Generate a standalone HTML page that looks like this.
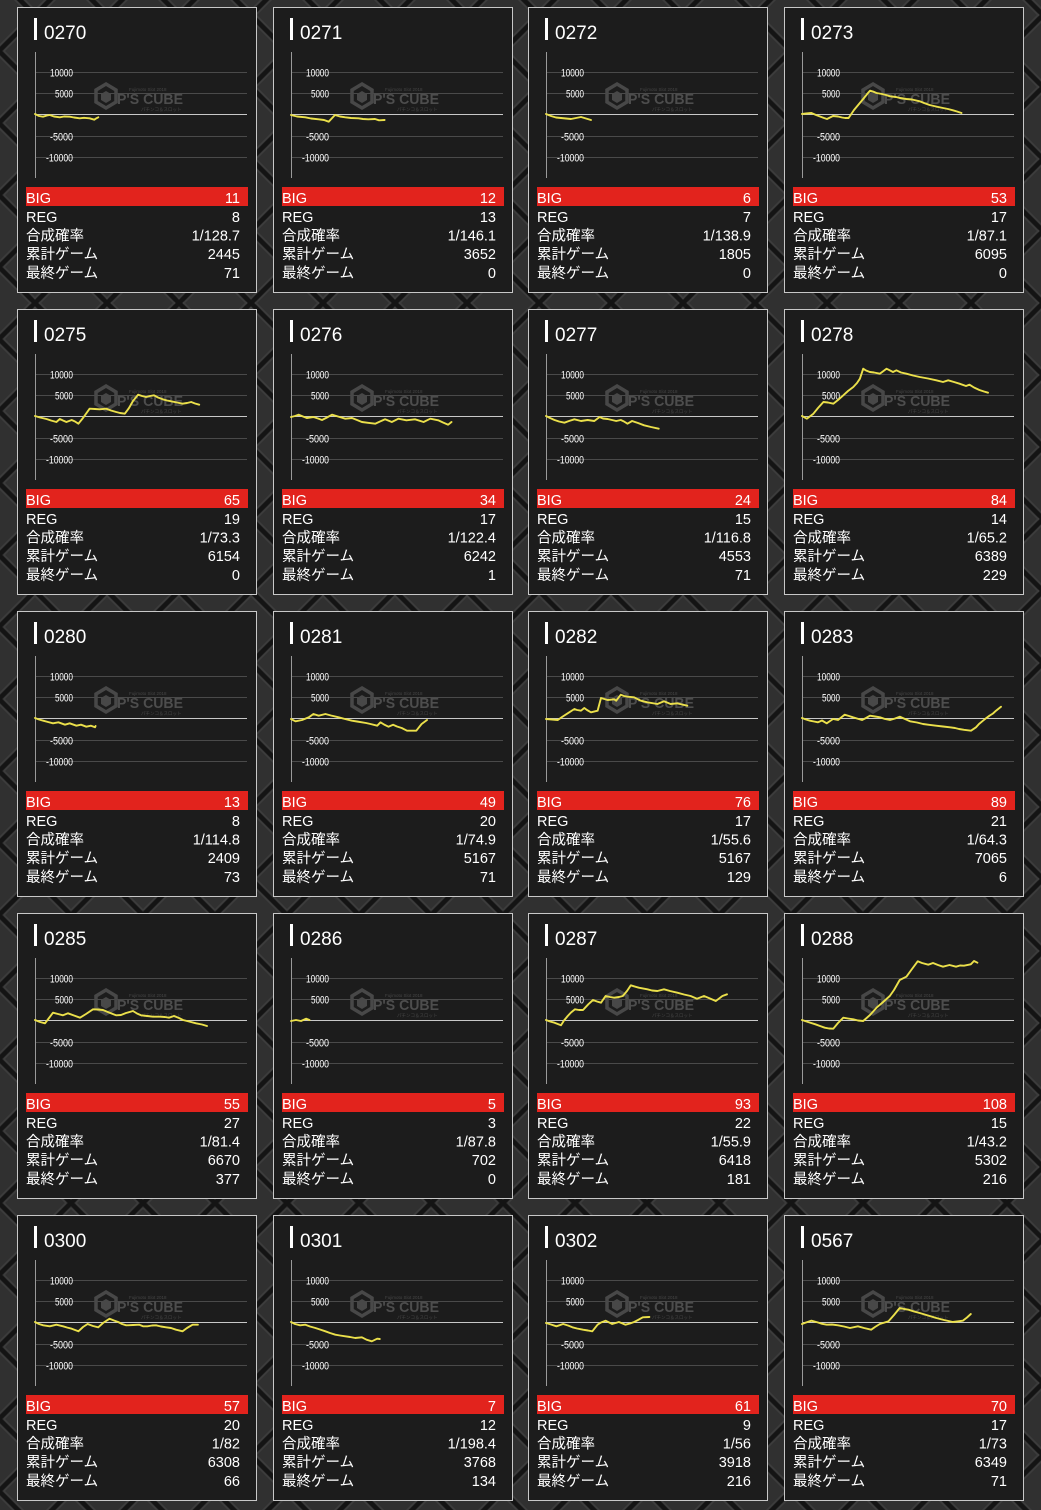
<!DOCTYPE html>
<html><head><meta charset="utf-8">
<style>
html,body{margin:0;padding:0;background:#2c2c2c;}
body{width:1041px;height:1510px;position:relative;overflow:hidden;}
.bg{position:absolute;left:0;top:0;}
.c{position:absolute;width:240px;height:286px;}
text{font-family:"Liberation Sans","Noto Sans CJK JP",sans-serif;}
.ti{font-size:19px;fill:#fff;}
.lb text{font-size:11px;fill:#fff;text-anchor:end;}
.tx{font-size:14.5px;fill:#fff;}
.r{text-anchor:end;}
.wmt{font-size:15px;font-weight:bold;fill:#4d4d4d;}
.wms{font-size:4.5px;fill:#474747;}
.ln{fill:none;stroke:#ebe04b;stroke-width:1.9;stroke-linejoin:round;stroke-linecap:round;}
.gr{stroke:#4a4a4a;stroke-width:1;}
.zr{stroke:#c8c8c8;stroke-width:1;}
.ax{stroke:#9a9a9a;stroke-width:1;}
</style></head><body>
<svg class="bg" width="1041" height="1510" viewBox="0 0 1041 1510">
<defs><pattern id="p" width="72" height="72" patternUnits="userSpaceOnUse" patternTransform="translate(71,51)">
<rect width="72" height="72" fill="#303030"/>
<path d="M0 5L67 72M5 0L72 67M0 67L67 0M5 72L72 5" stroke="#3d3d3d" stroke-width="1.5"/>
<path d="M0 0L72 72M72 0L0 72" stroke="#141414" stroke-width="4.5"/>
</pattern></defs>
<rect width="1041" height="1510" fill="url(#p)"/>
</svg>

<!-- ROW 1 -->
<svg class="c" style="left:17px;top:7px" viewBox="0 0 240 286">
<rect x=".5" y=".5" width="239" height="285" fill="#1c1c1c" stroke="#c8c8c8"/>
<rect x="17" y="11" width="3" height="22" fill="#fff"/>
<text x="27" y="32" class="ti">0270</text>
<path class="gr" d="M18 65.5H230M18 86.5H230M18 129.5H230M18 150.5H230"/>
<path class="zr" d="M18 107.5H230"/><path class="ax" d="M18.5 45V171"/>
<g class="lb"><text x="56" y="69.5" textLength="23" lengthAdjust="spacingAndGlyphs">10000</text><text x="56" y="90.5" textLength="18" lengthAdjust="spacingAndGlyphs">5000</text><text x="56" y="133.5" textLength="23" lengthAdjust="spacingAndGlyphs">-5000</text><text x="56" y="154.5" textLength="27" lengthAdjust="spacingAndGlyphs">-10000</text></g>
<g><path d="M89 77l10 6v12l-10 6-10-6V83z" fill="none" stroke="#484848" stroke-width="3.5"/><path d="M89 84l5 3v6l-5 3-5-3v-6z" fill="#484848"/><text x="100" y="97" class="wmt" textLength="66" lengthAdjust="spacingAndGlyphs">P'S CUBE</text><text x="112" y="84" class="wms">Fujimoto Slot 2018</text><text x="124" y="104" class="wms">パチンコ＆スロット</text></g>
<polyline class="ln" transform="translate(18,107)" points="0,0 4,2 8,2.7 12,1.5 14.8,1 19,2.5 24.8,3.3 29,2.5 34.7,2.7 39,3.5 44.7,4.3 49,3.8 54.6,4.3 59.3,5.7 61,4.5 63.3,3.3"/>
<rect x="9" y="180" width="222" height="19" fill="#e2231d"/>
<text x="9" y="196" class="tx">BIG</text><text x="223" y="196" class="tx r">11</text>
<text x="9" y="215" class="tx">REG</text><text x="223" y="215" class="tx r">8</text>
<text x="9" y="233.5" class="tx">合成確率</text><text x="223" y="233.5" class="tx r">1/128.7</text>
<text x="9" y="252" class="tx">累計ゲーム</text><text x="223" y="252" class="tx r">2445</text>
<text x="9" y="271" class="tx">最終ゲーム</text><text x="223" y="271" class="tx r">71</text>
</svg>

<svg class="c" style="left:273px;top:7px" viewBox="0 0 240 286">
<rect x=".5" y=".5" width="239" height="285" fill="#1c1c1c" stroke="#c8c8c8"/>
<rect x="17" y="11" width="3" height="22" fill="#fff"/>
<text x="27" y="32" class="ti">0271</text>
<path class="gr" d="M18 65.5H230M18 86.5H230M18 129.5H230M18 150.5H230"/>
<path class="zr" d="M18 107.5H230"/><path class="ax" d="M18.5 45V171"/>
<g class="lb"><text x="56" y="69.5" textLength="23" lengthAdjust="spacingAndGlyphs">10000</text><text x="56" y="90.5" textLength="18" lengthAdjust="spacingAndGlyphs">5000</text><text x="56" y="133.5" textLength="23" lengthAdjust="spacingAndGlyphs">-5000</text><text x="56" y="154.5" textLength="27" lengthAdjust="spacingAndGlyphs">-10000</text></g>
<g><path d="M89 77l10 6v12l-10 6-10-6V83z" fill="none" stroke="#484848" stroke-width="3.5"/><path d="M89 84l5 3v6l-5 3-5-3v-6z" fill="#484848"/><text x="100" y="97" class="wmt" textLength="66" lengthAdjust="spacingAndGlyphs">P'S CUBE</text><text x="112" y="84" class="wms">Fujimoto Slot 2018</text><text x="124" y="104" class="wms">パチンコ＆スロット</text></g>
<polyline class="ln" transform="translate(18,107)" points="0,1 6,2.5 14.4,3.3 20,4.5 27.7,5.3 33,6 37.7,7.7 44,1 49,2.5 54.3,3.3 60,4 67.5,4.3 72,5 77.3,5.3 84,5 88,6.3 93.6,6"/>
<rect x="9" y="180" width="222" height="19" fill="#e2231d"/>
<text x="9" y="196" class="tx">BIG</text><text x="223" y="196" class="tx r">12</text>
<text x="9" y="215" class="tx">REG</text><text x="223" y="215" class="tx r">13</text>
<text x="9" y="233.5" class="tx">合成確率</text><text x="223" y="233.5" class="tx r">1/146.1</text>
<text x="9" y="252" class="tx">累計ゲーム</text><text x="223" y="252" class="tx r">3652</text>
<text x="9" y="271" class="tx">最終ゲーム</text><text x="223" y="271" class="tx r">0</text>
</svg>

<svg class="c" style="left:528px;top:7px" viewBox="0 0 240 286">
<rect x=".5" y=".5" width="239" height="285" fill="#1c1c1c" stroke="#c8c8c8"/>
<rect x="17" y="11" width="3" height="22" fill="#fff"/>
<text x="27" y="32" class="ti">0272</text>
<path class="gr" d="M18 65.5H230M18 86.5H230M18 129.5H230M18 150.5H230"/>
<path class="zr" d="M18 107.5H230"/><path class="ax" d="M18.5 45V171"/>
<g class="lb"><text x="56" y="69.5" textLength="23" lengthAdjust="spacingAndGlyphs">10000</text><text x="56" y="90.5" textLength="18" lengthAdjust="spacingAndGlyphs">5000</text><text x="56" y="133.5" textLength="23" lengthAdjust="spacingAndGlyphs">-5000</text><text x="56" y="154.5" textLength="27" lengthAdjust="spacingAndGlyphs">-10000</text></g>
<g><path d="M89 77l10 6v12l-10 6-10-6V83z" fill="none" stroke="#484848" stroke-width="3.5"/><path d="M89 84l5 3v6l-5 3-5-3v-6z" fill="#484848"/><text x="100" y="97" class="wmt" textLength="66" lengthAdjust="spacingAndGlyphs">P'S CUBE</text><text x="112" y="84" class="wms">Fujimoto Slot 2018</text><text x="124" y="104" class="wms">パチンコ＆スロット</text></g>
<polyline class="ln" transform="translate(18,107)" points="0,0 5,2 10,3.5 15,4 20,4.5 25,5 30,4 35,3 40,4.5 45,6"/>
<rect x="9" y="180" width="222" height="19" fill="#e2231d"/>
<text x="9" y="196" class="tx">BIG</text><text x="223" y="196" class="tx r">6</text>
<text x="9" y="215" class="tx">REG</text><text x="223" y="215" class="tx r">7</text>
<text x="9" y="233.5" class="tx">合成確率</text><text x="223" y="233.5" class="tx r">1/138.9</text>
<text x="9" y="252" class="tx">累計ゲーム</text><text x="223" y="252" class="tx r">1805</text>
<text x="9" y="271" class="tx">最終ゲーム</text><text x="223" y="271" class="tx r">0</text>
</svg>

<svg class="c" style="left:784px;top:7px" viewBox="0 0 240 286">
<rect x=".5" y=".5" width="239" height="285" fill="#1c1c1c" stroke="#c8c8c8"/>
<rect x="17" y="11" width="3" height="22" fill="#fff"/>
<text x="27" y="32" class="ti">0273</text>
<path class="gr" d="M18 65.5H230M18 86.5H230M18 129.5H230M18 150.5H230"/>
<path class="zr" d="M18 107.5H230"/><path class="ax" d="M18.5 45V171"/>
<g class="lb"><text x="56" y="69.5" textLength="23" lengthAdjust="spacingAndGlyphs">10000</text><text x="56" y="90.5" textLength="18" lengthAdjust="spacingAndGlyphs">5000</text><text x="56" y="133.5" textLength="23" lengthAdjust="spacingAndGlyphs">-5000</text><text x="56" y="154.5" textLength="27" lengthAdjust="spacingAndGlyphs">-10000</text></g>
<g><path d="M89 77l10 6v12l-10 6-10-6V83z" fill="none" stroke="#484848" stroke-width="3.5"/><path d="M89 84l5 3v6l-5 3-5-3v-6z" fill="#484848"/><text x="100" y="97" class="wmt" textLength="66" lengthAdjust="spacingAndGlyphs">P'S CUBE</text><text x="112" y="84" class="wms">Fujimoto Slot 2018</text><text x="124" y="104" class="wms">パチンコ＆スロット</text></g>
<polyline class="ln" transform="translate(18,107)" points="0,0 4,-0.5 9.4,-1 14,1 18,2.5 22,4 25,5 28,3.5 31,2 36,2.5 40,3.5 43,4 46.6,4 52,-4 57,-10 62,-16 66,-21 68,-23.3 71,-22.5 74.5,-21 80,-20 84,-19 88,-17.7 94,-17 98,-16 104.4,-15 110,-14.5 117.7,-12.7 122,-11 127.6,-9 134,-7.5 141,-6 146,-5 151,-3.7 155,-2.5 159.5,-1"/>
<rect x="9" y="180" width="222" height="19" fill="#e2231d"/>
<text x="9" y="196" class="tx">BIG</text><text x="223" y="196" class="tx r">53</text>
<text x="9" y="215" class="tx">REG</text><text x="223" y="215" class="tx r">17</text>
<text x="9" y="233.5" class="tx">合成確率</text><text x="223" y="233.5" class="tx r">1/87.1</text>
<text x="9" y="252" class="tx">累計ゲーム</text><text x="223" y="252" class="tx r">6095</text>
<text x="9" y="271" class="tx">最終ゲーム</text><text x="223" y="271" class="tx r">0</text>
</svg>

<!-- ROW 2 -->
<svg class="c" style="left:17px;top:309px" viewBox="0 0 240 286">
<rect x=".5" y=".5" width="239" height="285" fill="#1c1c1c" stroke="#c8c8c8"/>
<rect x="17" y="11" width="3" height="22" fill="#fff"/>
<text x="27" y="32" class="ti">0275</text>
<path class="gr" d="M18 65.5H230M18 86.5H230M18 129.5H230M18 150.5H230"/>
<path class="zr" d="M18 107.5H230"/><path class="ax" d="M18.5 45V171"/>
<g class="lb"><text x="56" y="69.5" textLength="23" lengthAdjust="spacingAndGlyphs">10000</text><text x="56" y="90.5" textLength="18" lengthAdjust="spacingAndGlyphs">5000</text><text x="56" y="133.5" textLength="23" lengthAdjust="spacingAndGlyphs">-5000</text><text x="56" y="154.5" textLength="27" lengthAdjust="spacingAndGlyphs">-10000</text></g>
<g><path d="M89 77l10 6v12l-10 6-10-6V83z" fill="none" stroke="#484848" stroke-width="3.5"/><path d="M89 84l5 3v6l-5 3-5-3v-6z" fill="#484848"/><text x="100" y="97" class="wmt" textLength="66" lengthAdjust="spacingAndGlyphs">P'S CUBE</text><text x="112" y="84" class="wms">Fujimoto Slot 2018</text><text x="124" y="104" class="wms">パチンコ＆スロット</text></g>
<polyline class="ln" transform="translate(18,107)" points="0,0 5,1.5 11.5,3 16,4.5 21.4,6 24.8,3 28,4.5 31.4,6 36.7,4 40,5.5 43.4,7.7 48,2 54.6,-7.3 60,-7 64.6,-6.7 71.2,-7.3 76,-5.5 81.2,-4 85,-3 89.8,-2.3 94,-8 98,-15 103.1,-21.3 107,-20 111,-19 115,-20 119,-20.7 123,-18.5 127.7,-16.7 132,-15.5 136.3,-14.7 142,-13.5 147.6,-12.3 152,-13 156.2,-14 160,-12.5 164.2,-11.3"/>
<rect x="9" y="180" width="222" height="19" fill="#e2231d"/>
<text x="9" y="196" class="tx">BIG</text><text x="223" y="196" class="tx r">65</text>
<text x="9" y="215" class="tx">REG</text><text x="223" y="215" class="tx r">19</text>
<text x="9" y="233.5" class="tx">合成確率</text><text x="223" y="233.5" class="tx r">1/73.3</text>
<text x="9" y="252" class="tx">累計ゲーム</text><text x="223" y="252" class="tx r">6154</text>
<text x="9" y="271" class="tx">最終ゲーム</text><text x="223" y="271" class="tx r">0</text>
</svg>

<svg class="c" style="left:273px;top:309px" viewBox="0 0 240 286">
<rect x=".5" y=".5" width="239" height="285" fill="#1c1c1c" stroke="#c8c8c8"/>
<rect x="17" y="11" width="3" height="22" fill="#fff"/>
<text x="27" y="32" class="ti">0276</text>
<path class="gr" d="M18 65.5H230M18 86.5H230M18 129.5H230M18 150.5H230"/>
<path class="zr" d="M18 107.5H230"/><path class="ax" d="M18.5 45V171"/>
<g class="lb"><text x="56" y="69.5" textLength="23" lengthAdjust="spacingAndGlyphs">10000</text><text x="56" y="90.5" textLength="18" lengthAdjust="spacingAndGlyphs">5000</text><text x="56" y="133.5" textLength="23" lengthAdjust="spacingAndGlyphs">-5000</text><text x="56" y="154.5" textLength="27" lengthAdjust="spacingAndGlyphs">-10000</text></g>
<g><path d="M89 77l10 6v12l-10 6-10-6V83z" fill="none" stroke="#484848" stroke-width="3.5"/><path d="M89 84l5 3v6l-5 3-5-3v-6z" fill="#484848"/><text x="100" y="97" class="wmt" textLength="66" lengthAdjust="spacingAndGlyphs">P'S CUBE</text><text x="112" y="84" class="wms">Fujimoto Slot 2018</text><text x="124" y="104" class="wms">パチンコ＆スロット</text></g>
<polyline class="ln" transform="translate(18,107)" points="0,1 4,0 7.8,-1.3 12,0.5 15.8,2 19,1.5 22.4,1 27,2.5 31,4 36,1.5 41,-1.3 47,0.5 54.3,2.7 61,2 66,4 70.9,6 77,6.8 84.2,7.7 89,5.5 94.1,3.3 100.8,6 107.4,2.7 115.4,4.3 124,3.3 132.6,6 139.3,2.7 147.2,4.3 152,6.5 157.2,8.7 160.5,6"/>
<rect x="9" y="180" width="222" height="19" fill="#e2231d"/>
<text x="9" y="196" class="tx">BIG</text><text x="223" y="196" class="tx r">34</text>
<text x="9" y="215" class="tx">REG</text><text x="223" y="215" class="tx r">17</text>
<text x="9" y="233.5" class="tx">合成確率</text><text x="223" y="233.5" class="tx r">1/122.4</text>
<text x="9" y="252" class="tx">累計ゲーム</text><text x="223" y="252" class="tx r">6242</text>
<text x="9" y="271" class="tx">最終ゲーム</text><text x="223" y="271" class="tx r">1</text>
</svg>

<svg class="c" style="left:528px;top:309px" viewBox="0 0 240 286">
<rect x=".5" y=".5" width="239" height="285" fill="#1c1c1c" stroke="#c8c8c8"/>
<rect x="17" y="11" width="3" height="22" fill="#fff"/>
<text x="27" y="32" class="ti">0277</text>
<path class="gr" d="M18 65.5H230M18 86.5H230M18 129.5H230M18 150.5H230"/>
<path class="zr" d="M18 107.5H230"/><path class="ax" d="M18.5 45V171"/>
<g class="lb"><text x="56" y="69.5" textLength="23" lengthAdjust="spacingAndGlyphs">10000</text><text x="56" y="90.5" textLength="18" lengthAdjust="spacingAndGlyphs">5000</text><text x="56" y="133.5" textLength="23" lengthAdjust="spacingAndGlyphs">-5000</text><text x="56" y="154.5" textLength="27" lengthAdjust="spacingAndGlyphs">-10000</text></g>
<g><path d="M89 77l10 6v12l-10 6-10-6V83z" fill="none" stroke="#484848" stroke-width="3.5"/><path d="M89 84l5 3v6l-5 3-5-3v-6z" fill="#484848"/><text x="100" y="97" class="wmt" textLength="66" lengthAdjust="spacingAndGlyphs">P'S CUBE</text><text x="112" y="84" class="wms">Fujimoto Slot 2018</text><text x="124" y="104" class="wms">パチンコ＆スロット</text></g>
<polyline class="ln" transform="translate(18,107)" points="0,0 4,2 8.5,4 13,5.5 18.4,6.7 23,5 28.4,3.3 35,5 41.6,4 48.3,5 53.6,1 57,2.5 61.6,3 66,4 70.2,5 74.8,4 78,5.5 81.5,7.7 86.1,5 92,7 98.1,9.3 105,11 112.7,12.7"/>
<rect x="9" y="180" width="222" height="19" fill="#e2231d"/>
<text x="9" y="196" class="tx">BIG</text><text x="223" y="196" class="tx r">24</text>
<text x="9" y="215" class="tx">REG</text><text x="223" y="215" class="tx r">15</text>
<text x="9" y="233.5" class="tx">合成確率</text><text x="223" y="233.5" class="tx r">1/116.8</text>
<text x="9" y="252" class="tx">累計ゲーム</text><text x="223" y="252" class="tx r">4553</text>
<text x="9" y="271" class="tx">最終ゲーム</text><text x="223" y="271" class="tx r">71</text>
</svg>

<svg class="c" style="left:784px;top:309px" viewBox="0 0 240 286">
<rect x=".5" y=".5" width="239" height="285" fill="#1c1c1c" stroke="#c8c8c8"/>
<rect x="17" y="11" width="3" height="22" fill="#fff"/>
<text x="27" y="32" class="ti">0278</text>
<path class="gr" d="M18 65.5H230M18 86.5H230M18 129.5H230M18 150.5H230"/>
<path class="zr" d="M18 107.5H230"/><path class="ax" d="M18.5 45V171"/>
<g class="lb"><text x="56" y="69.5" textLength="23" lengthAdjust="spacingAndGlyphs">10000</text><text x="56" y="90.5" textLength="18" lengthAdjust="spacingAndGlyphs">5000</text><text x="56" y="133.5" textLength="23" lengthAdjust="spacingAndGlyphs">-5000</text><text x="56" y="154.5" textLength="27" lengthAdjust="spacingAndGlyphs">-10000</text></g>
<g><path d="M89 77l10 6v12l-10 6-10-6V83z" fill="none" stroke="#484848" stroke-width="3.5"/><path d="M89 84l5 3v6l-5 3-5-3v-6z" fill="#484848"/><text x="100" y="97" class="wmt" textLength="66" lengthAdjust="spacingAndGlyphs">P'S CUBE</text><text x="112" y="84" class="wms">Fujimoto Slot 2018</text><text x="124" y="104" class="wms">パチンコ＆スロット</text></g>
<polyline class="ln" transform="translate(18,107)" points="0,0 4.8,2.7 11.4,-2.3 16,-8 21.4,-14 26,-13.5 31.3,-12.3 36,-16 41.3,-20.7 46,-25 51.3,-29 55,-33 57.9,-37.3 61.2,-47.3 64,-45.5 67.9,-44 72,-43.5 77.8,-42.3 84.5,-47.3 91,-44 94.4,-45.7 99,-43.5 104.4,-42.3 111,-40.5 117.7,-39 126,-37.5 134.3,-35.7 141,-34 146.2,-35.7 152,-34 157.5,-32.3 164,-30 167.5,-31.3 172,-28.5 177.4,-26 182,-24.5 186,-23.3"/>
<rect x="9" y="180" width="222" height="19" fill="#e2231d"/>
<text x="9" y="196" class="tx">BIG</text><text x="223" y="196" class="tx r">84</text>
<text x="9" y="215" class="tx">REG</text><text x="223" y="215" class="tx r">14</text>
<text x="9" y="233.5" class="tx">合成確率</text><text x="223" y="233.5" class="tx r">1/65.2</text>
<text x="9" y="252" class="tx">累計ゲーム</text><text x="223" y="252" class="tx r">6389</text>
<text x="9" y="271" class="tx">最終ゲーム</text><text x="223" y="271" class="tx r">229</text>
</svg>

<!-- ROW 3 -->
<svg class="c" style="left:17px;top:611px" viewBox="0 0 240 286">
<rect x=".5" y=".5" width="239" height="285" fill="#1c1c1c" stroke="#c8c8c8"/>
<rect x="17" y="11" width="3" height="22" fill="#fff"/>
<text x="27" y="32" class="ti">0280</text>
<path class="gr" d="M18 65.5H230M18 86.5H230M18 129.5H230M18 150.5H230"/>
<path class="zr" d="M18 107.5H230"/><path class="ax" d="M18.5 45V171"/>
<g class="lb"><text x="56" y="69.5" textLength="23" lengthAdjust="spacingAndGlyphs">10000</text><text x="56" y="90.5" textLength="18" lengthAdjust="spacingAndGlyphs">5000</text><text x="56" y="133.5" textLength="23" lengthAdjust="spacingAndGlyphs">-5000</text><text x="56" y="154.5" textLength="27" lengthAdjust="spacingAndGlyphs">-10000</text></g>
<g><path d="M89 77l10 6v12l-10 6-10-6V83z" fill="none" stroke="#484848" stroke-width="3.5"/><path d="M89 84l5 3v6l-5 3-5-3v-6z" fill="#484848"/><text x="100" y="97" class="wmt" textLength="66" lengthAdjust="spacingAndGlyphs">P'S CUBE</text><text x="112" y="84" class="wms">Fujimoto Slot 2018</text><text x="124" y="104" class="wms">パチンコ＆スロット</text></g>
<polyline class="ln" transform="translate(18,107)" points="0,0 4,1.5 8.2,2.7 13,4 18,5.3 23.4,4.3 30,6.7 34.7,5.3 41.4,7.7 46,6.7 51.3,8.7 56,7.7 60,9.3 60.6,8"/>
<rect x="9" y="180" width="222" height="19" fill="#e2231d"/>
<text x="9" y="196" class="tx">BIG</text><text x="223" y="196" class="tx r">13</text>
<text x="9" y="215" class="tx">REG</text><text x="223" y="215" class="tx r">8</text>
<text x="9" y="233.5" class="tx">合成確率</text><text x="223" y="233.5" class="tx r">1/114.8</text>
<text x="9" y="252" class="tx">累計ゲーム</text><text x="223" y="252" class="tx r">2409</text>
<text x="9" y="271" class="tx">最終ゲーム</text><text x="223" y="271" class="tx r">73</text>
</svg>

<svg class="c" style="left:273px;top:611px" viewBox="0 0 240 286">
<rect x=".5" y=".5" width="239" height="285" fill="#1c1c1c" stroke="#c8c8c8"/>
<rect x="17" y="11" width="3" height="22" fill="#fff"/>
<text x="27" y="32" class="ti">0281</text>
<path class="gr" d="M18 65.5H230M18 86.5H230M18 129.5H230M18 150.5H230"/>
<path class="zr" d="M18 107.5H230"/><path class="ax" d="M18.5 45V171"/>
<g class="lb"><text x="56" y="69.5" textLength="23" lengthAdjust="spacingAndGlyphs">10000</text><text x="56" y="90.5" textLength="18" lengthAdjust="spacingAndGlyphs">5000</text><text x="56" y="133.5" textLength="23" lengthAdjust="spacingAndGlyphs">-5000</text><text x="56" y="154.5" textLength="27" lengthAdjust="spacingAndGlyphs">-10000</text></g>
<g><path d="M89 77l10 6v12l-10 6-10-6V83z" fill="none" stroke="#484848" stroke-width="3.5"/><path d="M89 84l5 3v6l-5 3-5-3v-6z" fill="#484848"/><text x="100" y="97" class="wmt" textLength="66" lengthAdjust="spacingAndGlyphs">P'S CUBE</text><text x="112" y="84" class="wms">Fujimoto Slot 2018</text><text x="124" y="104" class="wms">パチンコ＆スロット</text></g>
<polyline class="ln" transform="translate(18,107)" points="0,1 4.5,3.3 11.1,2 17.8,-0.7 22.4,-4 27.7,-2.3 34.4,-4 40,-2.5 47.6,-0.7 54,1 60.9,2.7 66,3.5 70.9,4.3 75,5 79.5,6 86.2,7.7 89.5,4.3 93,6.5 97.4,8.7 102.1,6.7 106,8.5 110.7,10 116,12.7 125.3,12.7 130.6,6 136,2"/>
<rect x="9" y="180" width="222" height="19" fill="#e2231d"/>
<text x="9" y="196" class="tx">BIG</text><text x="223" y="196" class="tx r">49</text>
<text x="9" y="215" class="tx">REG</text><text x="223" y="215" class="tx r">20</text>
<text x="9" y="233.5" class="tx">合成確率</text><text x="223" y="233.5" class="tx r">1/74.9</text>
<text x="9" y="252" class="tx">累計ゲーム</text><text x="223" y="252" class="tx r">5167</text>
<text x="9" y="271" class="tx">最終ゲーム</text><text x="223" y="271" class="tx r">71</text>
</svg>

<svg class="c" style="left:528px;top:611px" viewBox="0 0 240 286">
<rect x=".5" y=".5" width="239" height="285" fill="#1c1c1c" stroke="#c8c8c8"/>
<rect x="17" y="11" width="3" height="22" fill="#fff"/>
<text x="27" y="32" class="ti">0282</text>
<path class="gr" d="M18 65.5H230M18 86.5H230M18 129.5H230M18 150.5H230"/>
<path class="zr" d="M18 107.5H230"/><path class="ax" d="M18.5 45V171"/>
<g class="lb"><text x="56" y="69.5" textLength="23" lengthAdjust="spacingAndGlyphs">10000</text><text x="56" y="90.5" textLength="18" lengthAdjust="spacingAndGlyphs">5000</text><text x="56" y="133.5" textLength="23" lengthAdjust="spacingAndGlyphs">-5000</text><text x="56" y="154.5" textLength="27" lengthAdjust="spacingAndGlyphs">-10000</text></g>
<g><path d="M89 77l10 6v12l-10 6-10-6V83z" fill="none" stroke="#484848" stroke-width="3.5"/><path d="M89 84l5 3v6l-5 3-5-3v-6z" fill="#484848"/><text x="100" y="97" class="wmt" textLength="66" lengthAdjust="spacingAndGlyphs">P'S CUBE</text><text x="112" y="84" class="wms">Fujimoto Slot 2018</text><text x="124" y="104" class="wms">パチンコ＆スロット</text></g>
<polyline class="ln" transform="translate(18,107)" points="0,1 6,1.5 11.8,2 16,-1 21.7,-4.7 28.4,-9 31,-8 35,-7.3 38.3,-10 41,-8 45,-5.7 51.6,-7.3 55,-20 61.6,-18 68.2,-18.7 70.2,-17.3 74.8,-23.3 78,-22 81.5,-21.3 88.1,-20.7 94.8,-17.3 101.4,-15.7 111.4,-14 118,-16.7 124.6,-14 131.3,-14.7 136,-13.5 141.3,-12.3"/>
<rect x="9" y="180" width="222" height="19" fill="#e2231d"/>
<text x="9" y="196" class="tx">BIG</text><text x="223" y="196" class="tx r">76</text>
<text x="9" y="215" class="tx">REG</text><text x="223" y="215" class="tx r">17</text>
<text x="9" y="233.5" class="tx">合成確率</text><text x="223" y="233.5" class="tx r">1/55.6</text>
<text x="9" y="252" class="tx">累計ゲーム</text><text x="223" y="252" class="tx r">5167</text>
<text x="9" y="271" class="tx">最終ゲーム</text><text x="223" y="271" class="tx r">129</text>
</svg>

<svg class="c" style="left:784px;top:611px" viewBox="0 0 240 286">
<rect x=".5" y=".5" width="239" height="285" fill="#1c1c1c" stroke="#c8c8c8"/>
<rect x="17" y="11" width="3" height="22" fill="#fff"/>
<text x="27" y="32" class="ti">0283</text>
<path class="gr" d="M18 65.5H230M18 86.5H230M18 129.5H230M18 150.5H230"/>
<path class="zr" d="M18 107.5H230"/><path class="ax" d="M18.5 45V171"/>
<g class="lb"><text x="56" y="69.5" textLength="23" lengthAdjust="spacingAndGlyphs">10000</text><text x="56" y="90.5" textLength="18" lengthAdjust="spacingAndGlyphs">5000</text><text x="56" y="133.5" textLength="23" lengthAdjust="spacingAndGlyphs">-5000</text><text x="56" y="154.5" textLength="27" lengthAdjust="spacingAndGlyphs">-10000</text></g>
<g><path d="M89 77l10 6v12l-10 6-10-6V83z" fill="none" stroke="#484848" stroke-width="3.5"/><path d="M89 84l5 3v6l-5 3-5-3v-6z" fill="#484848"/><text x="100" y="97" class="wmt" textLength="66" lengthAdjust="spacingAndGlyphs">P'S CUBE</text><text x="112" y="84" class="wms">Fujimoto Slot 2018</text><text x="124" y="104" class="wms">パチンコ＆スロット</text></g>
<polyline class="ln" transform="translate(18,107)" points="0,0 4,1.5 8,2.7 12,3.5 16,4.3 20,2.5 24.7,5.3 31,1 36,2 42.6,-3.3 47,-2 51,-0.7 55,0.5 60,2 64,0 68,-2.3 73,-1.5 78,-0.7 83,1 88,2 93,0.5 98,-1.3 103,1 108,3.3 115,4.5 121,6 127,6.8 134,7.7 141,8.5 148,9.3 153,10 157,11 162,11.8 169,12.7 174,9.3 177,6 181,2.7 184,0.3 187.5,-2.3 191,-4.5 194,-7.3 199,-11.3"/>
<rect x="9" y="180" width="222" height="19" fill="#e2231d"/>
<text x="9" y="196" class="tx">BIG</text><text x="223" y="196" class="tx r">89</text>
<text x="9" y="215" class="tx">REG</text><text x="223" y="215" class="tx r">21</text>
<text x="9" y="233.5" class="tx">合成確率</text><text x="223" y="233.5" class="tx r">1/64.3</text>
<text x="9" y="252" class="tx">累計ゲーム</text><text x="223" y="252" class="tx r">7065</text>
<text x="9" y="271" class="tx">最終ゲーム</text><text x="223" y="271" class="tx r">6</text>
</svg>

<!-- ROW 4 -->
<svg class="c" style="left:17px;top:913px" viewBox="0 0 240 286">
<rect x=".5" y=".5" width="239" height="285" fill="#1c1c1c" stroke="#c8c8c8"/>
<rect x="17" y="11" width="3" height="22" fill="#fff"/>
<text x="27" y="32" class="ti">0285</text>
<path class="gr" d="M18 65.5H230M18 86.5H230M18 129.5H230M18 150.5H230"/>
<path class="zr" d="M18 107.5H230"/><path class="ax" d="M18.5 45V171"/>
<g class="lb"><text x="56" y="69.5" textLength="23" lengthAdjust="spacingAndGlyphs">10000</text><text x="56" y="90.5" textLength="18" lengthAdjust="spacingAndGlyphs">5000</text><text x="56" y="133.5" textLength="23" lengthAdjust="spacingAndGlyphs">-5000</text><text x="56" y="154.5" textLength="27" lengthAdjust="spacingAndGlyphs">-10000</text></g>
<g><path d="M89 77l10 6v12l-10 6-10-6V83z" fill="none" stroke="#484848" stroke-width="3.5"/><path d="M89 84l5 3v6l-5 3-5-3v-6z" fill="#484848"/><text x="100" y="97" class="wmt" textLength="66" lengthAdjust="spacingAndGlyphs">P'S CUBE</text><text x="112" y="84" class="wms">Fujimoto Slot 2018</text><text x="124" y="104" class="wms">パチンコ＆スロット</text></g>
<polyline class="ln" transform="translate(18,107)" points="0,0 5,2 10,3.3 14,-2 18,-7.3 23,-6 28,-4.7 33,-6.7 39,-4.5 45,-2.3 51,-6 58,-10.7 63,-10.5 68,-10 74,-7.5 81,-4.7 86,-5 91,-7 98,-9 102,-6.5 106,-4.7 112,-4 118,-3.3 125,-3.3 130,-3 134,-2.3 139,-4 144,-2 148,0 154,1.5 161,3.3 167,4.5 172,6"/>
<rect x="9" y="180" width="222" height="19" fill="#e2231d"/>
<text x="9" y="196" class="tx">BIG</text><text x="223" y="196" class="tx r">55</text>
<text x="9" y="215" class="tx">REG</text><text x="223" y="215" class="tx r">27</text>
<text x="9" y="233.5" class="tx">合成確率</text><text x="223" y="233.5" class="tx r">1/81.4</text>
<text x="9" y="252" class="tx">累計ゲーム</text><text x="223" y="252" class="tx r">6670</text>
<text x="9" y="271" class="tx">最終ゲーム</text><text x="223" y="271" class="tx r">377</text>
</svg>

<svg class="c" style="left:273px;top:913px" viewBox="0 0 240 286">
<rect x=".5" y=".5" width="239" height="285" fill="#1c1c1c" stroke="#c8c8c8"/>
<rect x="17" y="11" width="3" height="22" fill="#fff"/>
<text x="27" y="32" class="ti">0286</text>
<path class="gr" d="M18 65.5H230M18 86.5H230M18 129.5H230M18 150.5H230"/>
<path class="zr" d="M18 107.5H230"/><path class="ax" d="M18.5 45V171"/>
<g class="lb"><text x="56" y="69.5" textLength="23" lengthAdjust="spacingAndGlyphs">10000</text><text x="56" y="90.5" textLength="18" lengthAdjust="spacingAndGlyphs">5000</text><text x="56" y="133.5" textLength="23" lengthAdjust="spacingAndGlyphs">-5000</text><text x="56" y="154.5" textLength="27" lengthAdjust="spacingAndGlyphs">-10000</text></g>
<g><path d="M89 77l10 6v12l-10 6-10-6V83z" fill="none" stroke="#484848" stroke-width="3.5"/><path d="M89 84l5 3v6l-5 3-5-3v-6z" fill="#484848"/><text x="100" y="97" class="wmt" textLength="66" lengthAdjust="spacingAndGlyphs">P'S CUBE</text><text x="112" y="84" class="wms">Fujimoto Slot 2018</text><text x="124" y="104" class="wms">パチンコ＆スロット</text></g>
<polyline class="ln" transform="translate(18,107)" points="0,1 5,0 10,1 15,-1.3 18.5,0"/>
<rect x="9" y="180" width="222" height="19" fill="#e2231d"/>
<text x="9" y="196" class="tx">BIG</text><text x="223" y="196" class="tx r">5</text>
<text x="9" y="215" class="tx">REG</text><text x="223" y="215" class="tx r">3</text>
<text x="9" y="233.5" class="tx">合成確率</text><text x="223" y="233.5" class="tx r">1/87.8</text>
<text x="9" y="252" class="tx">累計ゲーム</text><text x="223" y="252" class="tx r">702</text>
<text x="9" y="271" class="tx">最終ゲーム</text><text x="223" y="271" class="tx r">0</text>
</svg>

<svg class="c" style="left:528px;top:913px" viewBox="0 0 240 286">
<rect x=".5" y=".5" width="239" height="285" fill="#1c1c1c" stroke="#c8c8c8"/>
<rect x="17" y="11" width="3" height="22" fill="#fff"/>
<text x="27" y="32" class="ti">0287</text>
<path class="gr" d="M18 65.5H230M18 86.5H230M18 129.5H230M18 150.5H230"/>
<path class="zr" d="M18 107.5H230"/><path class="ax" d="M18.5 45V171"/>
<g class="lb"><text x="56" y="69.5" textLength="23" lengthAdjust="spacingAndGlyphs">10000</text><text x="56" y="90.5" textLength="18" lengthAdjust="spacingAndGlyphs">5000</text><text x="56" y="133.5" textLength="23" lengthAdjust="spacingAndGlyphs">-5000</text><text x="56" y="154.5" textLength="27" lengthAdjust="spacingAndGlyphs">-10000</text></g>
<g><path d="M89 77l10 6v12l-10 6-10-6V83z" fill="none" stroke="#484848" stroke-width="3.5"/><path d="M89 84l5 3v6l-5 3-5-3v-6z" fill="#484848"/><text x="100" y="97" class="wmt" textLength="66" lengthAdjust="spacingAndGlyphs">P'S CUBE</text><text x="112" y="84" class="wms">Fujimoto Slot 2018</text><text x="124" y="104" class="wms">パチンコ＆スロット</text></g>
<polyline class="ln" transform="translate(18,107)" points="0,0 4,1.5 8.5,2.7 15,5.3 18,0.5 21.7,-4 25,-7.5 29,-10.7 33,-10 37,-10 42.3,-15.7 47,-20 51,-18.5 55,-17.3 59.6,-24 64,-23 68,-22.3 73,-23 76.8,-24 81,-29 84.8,-34.7 88,-33.7 92.8,-32.3 101.4,-30.7 106,-29.5 111.4,-29 118,-30.7 124,-29 131.3,-27.3 138,-25.5 144.6,-24 151,-21.3 158,-24 164,-21.5 169.8,-19 176.4,-24 181,-25.7"/>
<rect x="9" y="180" width="222" height="19" fill="#e2231d"/>
<text x="9" y="196" class="tx">BIG</text><text x="223" y="196" class="tx r">93</text>
<text x="9" y="215" class="tx">REG</text><text x="223" y="215" class="tx r">22</text>
<text x="9" y="233.5" class="tx">合成確率</text><text x="223" y="233.5" class="tx r">1/55.9</text>
<text x="9" y="252" class="tx">累計ゲーム</text><text x="223" y="252" class="tx r">6418</text>
<text x="9" y="271" class="tx">最終ゲーム</text><text x="223" y="271" class="tx r">181</text>
</svg>

<svg class="c" style="left:784px;top:913px" viewBox="0 0 240 286">
<rect x=".5" y=".5" width="239" height="285" fill="#1c1c1c" stroke="#c8c8c8"/>
<rect x="17" y="11" width="3" height="22" fill="#fff"/>
<text x="27" y="32" class="ti">0288</text>
<path class="gr" d="M18 65.5H230M18 86.5H230M18 129.5H230M18 150.5H230"/>
<path class="zr" d="M18 107.5H230"/><path class="ax" d="M18.5 45V171"/>
<g class="lb"><text x="56" y="69.5" textLength="23" lengthAdjust="spacingAndGlyphs">10000</text><text x="56" y="90.5" textLength="18" lengthAdjust="spacingAndGlyphs">5000</text><text x="56" y="133.5" textLength="23" lengthAdjust="spacingAndGlyphs">-5000</text><text x="56" y="154.5" textLength="27" lengthAdjust="spacingAndGlyphs">-10000</text></g>
<g><path d="M89 77l10 6v12l-10 6-10-6V83z" fill="none" stroke="#484848" stroke-width="3.5"/><path d="M89 84l5 3v6l-5 3-5-3v-6z" fill="#484848"/><text x="100" y="97" class="wmt" textLength="66" lengthAdjust="spacingAndGlyphs">P'S CUBE</text><text x="112" y="84" class="wms">Fujimoto Slot 2018</text><text x="124" y="104" class="wms">パチンコ＆スロット</text></g>
<polyline class="ln" transform="translate(18,107)" points="0,0 6,2 13.4,4.3 18,6 22.7,7.7 27,8.5 31.3,8.7 36,3 41.3,-2.3 46,-1.5 51.3,-0.7 56,0.5 61.2,1 68,-5 74.5,-12.3 80,-17 87.8,-24 92,-30 97.7,-40 104.4,-43.3 110,-51 115.7,-58.7 120,-57 126.3,-55.3 131,-57 136,-55 141,-53.3 147.5,-55 154,-53.3 158,-54.5 162,-54.3 168.8,-55.7 172,-59 175.4,-57.3"/>
<rect x="9" y="180" width="222" height="19" fill="#e2231d"/>
<text x="9" y="196" class="tx">BIG</text><text x="223" y="196" class="tx r">108</text>
<text x="9" y="215" class="tx">REG</text><text x="223" y="215" class="tx r">15</text>
<text x="9" y="233.5" class="tx">合成確率</text><text x="223" y="233.5" class="tx r">1/43.2</text>
<text x="9" y="252" class="tx">累計ゲーム</text><text x="223" y="252" class="tx r">5302</text>
<text x="9" y="271" class="tx">最終ゲーム</text><text x="223" y="271" class="tx r">216</text>
</svg>

<!-- ROW 5 -->
<svg class="c" style="left:17px;top:1215px" viewBox="0 0 240 286">
<rect x=".5" y=".5" width="239" height="285" fill="#1c1c1c" stroke="#c8c8c8"/>
<rect x="17" y="11" width="3" height="22" fill="#fff"/>
<text x="27" y="32" class="ti">0300</text>
<path class="gr" d="M18 65.5H230M18 86.5H230M18 129.5H230M18 150.5H230"/>
<path class="zr" d="M18 107.5H230"/><path class="ax" d="M18.5 45V171"/>
<g class="lb"><text x="56" y="69.5" textLength="23" lengthAdjust="spacingAndGlyphs">10000</text><text x="56" y="90.5" textLength="18" lengthAdjust="spacingAndGlyphs">5000</text><text x="56" y="133.5" textLength="23" lengthAdjust="spacingAndGlyphs">-5000</text><text x="56" y="154.5" textLength="27" lengthAdjust="spacingAndGlyphs">-10000</text></g>
<g><path d="M89 77l10 6v12l-10 6-10-6V83z" fill="none" stroke="#484848" stroke-width="3.5"/><path d="M89 84l5 3v6l-5 3-5-3v-6z" fill="#484848"/><text x="100" y="97" class="wmt" textLength="66" lengthAdjust="spacingAndGlyphs">P'S CUBE</text><text x="112" y="84" class="wms">Fujimoto Slot 2018</text><text x="124" y="104" class="wms">パチンコ＆スロット</text></g>
<polyline class="ln" transform="translate(18,107)" points="0,0 4,2 8.2,3.3 14.8,4.3 21.4,2.7 28.1,4.3 32,5.5 36.7,6.7 43.4,9.3 48,5 52.6,2 58,4 63.3,5.3 68,1 74.6,-3.3 79,-1.5 83.2,0 87,2 91.2,3.3 98,3 104.4,2.7 108,4.3 112.4,4.3 117,3.5 121,3.3 126,4.5 131,5.3 136,6 141,7.7 147.6,9.3 152,6 157.6,2.7 162.9,2.7"/>
<rect x="9" y="180" width="222" height="19" fill="#e2231d"/>
<text x="9" y="196" class="tx">BIG</text><text x="223" y="196" class="tx r">57</text>
<text x="9" y="215" class="tx">REG</text><text x="223" y="215" class="tx r">20</text>
<text x="9" y="233.5" class="tx">合成確率</text><text x="223" y="233.5" class="tx r">1/82</text>
<text x="9" y="252" class="tx">累計ゲーム</text><text x="223" y="252" class="tx r">6308</text>
<text x="9" y="271" class="tx">最終ゲーム</text><text x="223" y="271" class="tx r">66</text>
</svg>

<svg class="c" style="left:273px;top:1215px" viewBox="0 0 240 286">
<rect x=".5" y=".5" width="239" height="285" fill="#1c1c1c" stroke="#c8c8c8"/>
<rect x="17" y="11" width="3" height="22" fill="#fff"/>
<text x="27" y="32" class="ti">0301</text>
<path class="gr" d="M18 65.5H230M18 86.5H230M18 129.5H230M18 150.5H230"/>
<path class="zr" d="M18 107.5H230"/><path class="ax" d="M18.5 45V171"/>
<g class="lb"><text x="56" y="69.5" textLength="23" lengthAdjust="spacingAndGlyphs">10000</text><text x="56" y="90.5" textLength="18" lengthAdjust="spacingAndGlyphs">5000</text><text x="56" y="133.5" textLength="23" lengthAdjust="spacingAndGlyphs">-5000</text><text x="56" y="154.5" textLength="27" lengthAdjust="spacingAndGlyphs">-10000</text></g>
<g><path d="M89 77l10 6v12l-10 6-10-6V83z" fill="none" stroke="#484848" stroke-width="3.5"/><path d="M89 84l5 3v6l-5 3-5-3v-6z" fill="#484848"/><text x="100" y="97" class="wmt" textLength="66" lengthAdjust="spacingAndGlyphs">P'S CUBE</text><text x="112" y="84" class="wms">Fujimoto Slot 2018</text><text x="124" y="104" class="wms">パチンコ＆スロット</text></g>
<polyline class="ln" transform="translate(18,107)" points="0,0 4,2 9.1,3.3 14.4,2.7 19,4.5 24.4,6 29,7.5 34.4,9.3 39,11 44.3,12.7 49,13.5 54.3,14.3 59,15 64.2,16 70.9,15.3 75.5,17.7 80.8,19.3 86.2,16.7 88.8,17"/>
<rect x="9" y="180" width="222" height="19" fill="#e2231d"/>
<text x="9" y="196" class="tx">BIG</text><text x="223" y="196" class="tx r">7</text>
<text x="9" y="215" class="tx">REG</text><text x="223" y="215" class="tx r">12</text>
<text x="9" y="233.5" class="tx">合成確率</text><text x="223" y="233.5" class="tx r">1/198.4</text>
<text x="9" y="252" class="tx">累計ゲーム</text><text x="223" y="252" class="tx r">3768</text>
<text x="9" y="271" class="tx">最終ゲーム</text><text x="223" y="271" class="tx r">134</text>
</svg>

<svg class="c" style="left:528px;top:1215px" viewBox="0 0 240 286">
<rect x=".5" y=".5" width="239" height="285" fill="#1c1c1c" stroke="#c8c8c8"/>
<rect x="17" y="11" width="3" height="22" fill="#fff"/>
<text x="27" y="32" class="ti">0302</text>
<path class="gr" d="M18 65.5H230M18 86.5H230M18 129.5H230M18 150.5H230"/>
<path class="zr" d="M18 107.5H230"/><path class="ax" d="M18.5 45V171"/>
<g class="lb"><text x="56" y="69.5" textLength="23" lengthAdjust="spacingAndGlyphs">10000</text><text x="56" y="90.5" textLength="18" lengthAdjust="spacingAndGlyphs">5000</text><text x="56" y="133.5" textLength="23" lengthAdjust="spacingAndGlyphs">-5000</text><text x="56" y="154.5" textLength="27" lengthAdjust="spacingAndGlyphs">-10000</text></g>
<g><path d="M89 77l10 6v12l-10 6-10-6V83z" fill="none" stroke="#484848" stroke-width="3.5"/><path d="M89 84l5 3v6l-5 3-5-3v-6z" fill="#484848"/><text x="100" y="97" class="wmt" textLength="66" lengthAdjust="spacingAndGlyphs">P'S CUBE</text><text x="112" y="84" class="wms">Fujimoto Slot 2018</text><text x="124" y="104" class="wms">パチンコ＆スロット</text></g>
<polyline class="ln" transform="translate(18,107)" points="0,1 5,2.5 10.4,4.3 17.1,2 22,3.5 26.4,5.3 31,6.5 37,7.7 42,8.5 46.3,9.3 51.6,2.7 55,0.5 59.6,-1.3 66.2,2 72.9,0 79.5,2.7 84,1.5 88.1,0 92,-2 96.8,-4.7 103.4,-5"/>
<rect x="9" y="180" width="222" height="19" fill="#e2231d"/>
<text x="9" y="196" class="tx">BIG</text><text x="223" y="196" class="tx r">61</text>
<text x="9" y="215" class="tx">REG</text><text x="223" y="215" class="tx r">9</text>
<text x="9" y="233.5" class="tx">合成確率</text><text x="223" y="233.5" class="tx r">1/56</text>
<text x="9" y="252" class="tx">累計ゲーム</text><text x="223" y="252" class="tx r">3918</text>
<text x="9" y="271" class="tx">最終ゲーム</text><text x="223" y="271" class="tx r">216</text>
</svg>

<svg class="c" style="left:784px;top:1215px" viewBox="0 0 240 286">
<rect x=".5" y=".5" width="239" height="285" fill="#1c1c1c" stroke="#c8c8c8"/>
<rect x="17" y="11" width="3" height="22" fill="#fff"/>
<text x="27" y="32" class="ti">0567</text>
<path class="gr" d="M18 65.5H230M18 86.5H230M18 129.5H230M18 150.5H230"/>
<path class="zr" d="M18 107.5H230"/><path class="ax" d="M18.5 45V171"/>
<g class="lb"><text x="56" y="69.5" textLength="23" lengthAdjust="spacingAndGlyphs">10000</text><text x="56" y="90.5" textLength="18" lengthAdjust="spacingAndGlyphs">5000</text><text x="56" y="133.5" textLength="23" lengthAdjust="spacingAndGlyphs">-5000</text><text x="56" y="154.5" textLength="27" lengthAdjust="spacingAndGlyphs">-10000</text></g>
<g><path d="M89 77l10 6v12l-10 6-10-6V83z" fill="none" stroke="#484848" stroke-width="3.5"/><path d="M89 84l5 3v6l-5 3-5-3v-6z" fill="#484848"/><text x="100" y="97" class="wmt" textLength="66" lengthAdjust="spacingAndGlyphs">P'S CUBE</text><text x="112" y="84" class="wms">Fujimoto Slot 2018</text><text x="124" y="104" class="wms">パチンコ＆スロット</text></g>
<polyline class="ln" transform="translate(18,107)" points="0,2 4,0.5 9.4,-1.3 16,0.5 20,1.8 24.7,2.7 30,2.5 36,3.3 42,4.5 48,6 55.9,4.3 62,6 69.2,7.7 73,5 77.8,2 81,1 86.5,-0.7 92,-7 97.7,-14 102,-13 106.4,-12.3 112,-10.5 117.7,-9 126,-6.5 134.3,-4 142,-2 150.9,0 155,-0.5 160.8,-1.3 165,-4.5 168.8,-8"/>
<rect x="9" y="180" width="222" height="19" fill="#e2231d"/>
<text x="9" y="196" class="tx">BIG</text><text x="223" y="196" class="tx r">70</text>
<text x="9" y="215" class="tx">REG</text><text x="223" y="215" class="tx r">17</text>
<text x="9" y="233.5" class="tx">合成確率</text><text x="223" y="233.5" class="tx r">1/73</text>
<text x="9" y="252" class="tx">累計ゲーム</text><text x="223" y="252" class="tx r">6349</text>
<text x="9" y="271" class="tx">最終ゲーム</text><text x="223" y="271" class="tx r">71</text>
</svg>

</body></html>
